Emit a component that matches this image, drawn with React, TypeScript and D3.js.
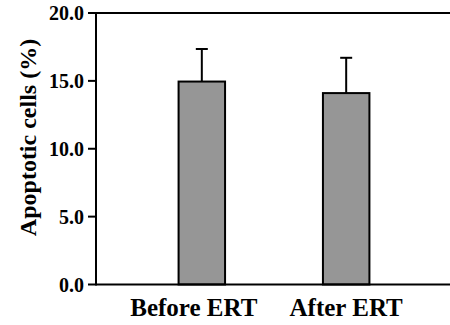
import * as d3 from 'd3';

// Apoptotic cells before / after ERT, mean + SD
const categories = ['Before ERT', 'After ERT'];
const means = [14.95, 14.1];
const upperErr = [17.35, 16.7];
const yTicks = [0, 5, 10, 15, 20];

const W = 450;
const H = 325;
const AXIS_X = 96;
const TOP = 13;
const BOTTOM = 284.5;

const serif = { fontFamily: "'Liberation Serif'" };

export default function App() {
  const y = d3.scaleLinear().domain([0, 20]).range([BOTTOM, TOP]);
  const x = d3
    .scaleBand<string>()
    .domain(categories)
    .range([AXIS_X, 452])
    .paddingInner(0.678)
    .paddingOuter(0.572);
  const bw = x.bandwidth();
  const cap = 6;

  return (
    <svg width={W} height={H} style={{ position: 'absolute', left: 0, top: 0 }}>
      {/* bars */}
      {categories.map((c, i) => {
        const x0 = x(c)!;
        const cx = x0 + bw / 2;
        return (
          <g key={c}>
            <line x1={cx} x2={cx} y1={y(means[i])} y2={y(upperErr[i])} stroke="#000" strokeWidth={2} />
            <line x1={cx - cap} x2={cx + cap} y1={y(upperErr[i])} y2={y(upperErr[i])} stroke="#000" strokeWidth={2} />
            <rect
              x={x0}
              y={y(means[i])}
              width={bw}
              height={BOTTOM - y(means[i])}
              fill="#969696"
              stroke="#000"
              strokeWidth={2}
            />
            <text x={cx - (i === 0 ? 8 : 0)} y={316} textAnchor="middle" fontSize={25} fontWeight={700} style={serif}>
              {c}
            </text>
          </g>
        );
      })}

      {/* axes */}
      <line x1={AXIS_X} x2={W} y1={TOP} y2={TOP} stroke="#000" strokeWidth={2} />
      <line x1={AXIS_X} x2={W} y1={BOTTOM} y2={BOTTOM} stroke="#000" strokeWidth={2} />
      <line x1={AXIS_X} x2={AXIS_X} y1={TOP - 1} y2={BOTTOM + 1} stroke="#000" strokeWidth={2} />
      {yTicks.map((t) => (
        <g key={t}>
          <line x1={AXIS_X - 8} x2={AXIS_X} y1={y(t)} y2={y(t)} stroke="#000" strokeWidth={2} />
          <text x={84} y={y(t) + 7} textAnchor="end" fontSize={20} fontWeight={700} style={serif}>
            {t.toFixed(1)}
          </text>
        </g>
      ))}

      <text
        transform="translate(36,137.5) rotate(-90)"
        textAnchor="middle"
        fontSize={24}
        fontWeight={700}
        style={serif}
      >
        Apoptotic cells (%)
      </text>
    </svg>
  );
}
